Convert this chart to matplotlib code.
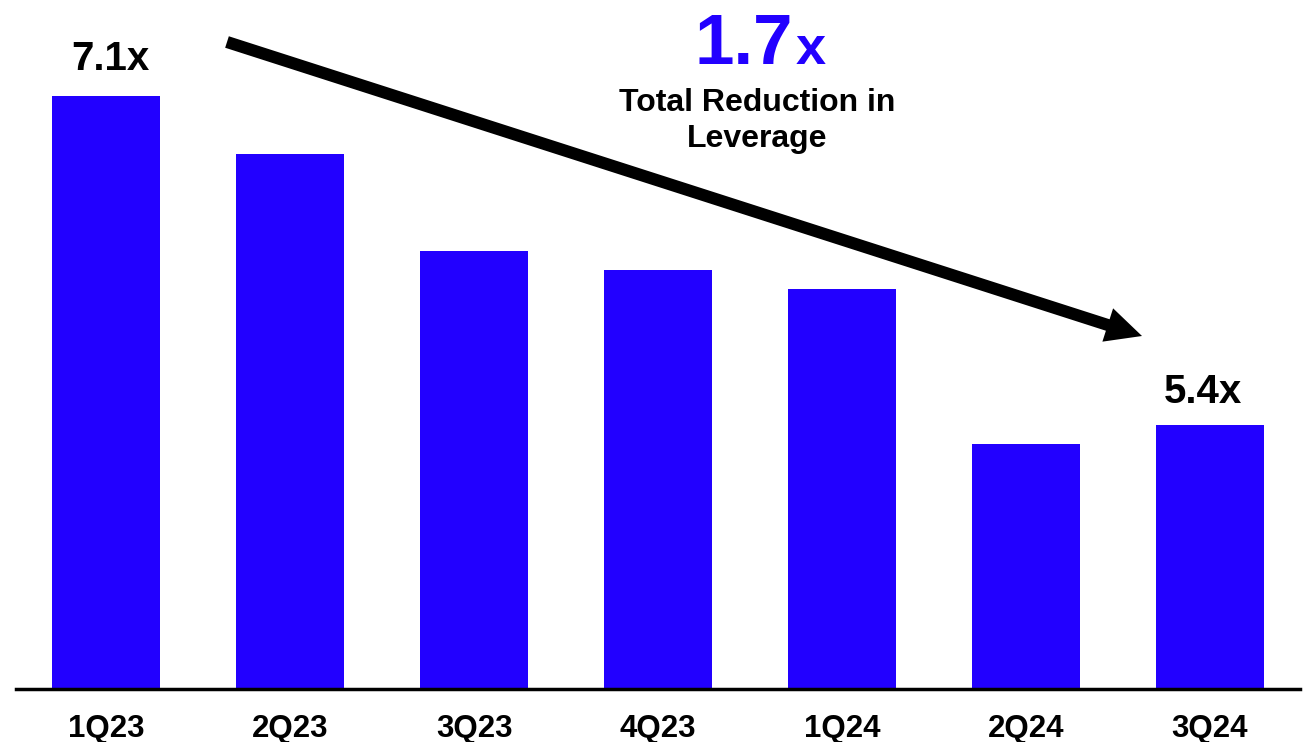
import matplotlib.pyplot as plt
from matplotlib.patches import FancyArrowPatch

plt.rcParams['font.family'] = ['Liberation Sans', 'DejaVu Sans']
plt.rcParams['font.weight'] = 'bold'

quarters = ['1Q23', '2Q23', '3Q23', '4Q23', '1Q24', '2Q24', '3Q24']
leverage = [7.1, 6.8, 6.3, 6.2, 6.1, 5.3, 5.4]
bar_labels = {0: '7.1x', 6: '5.4x'}

blue = '#2200FF'

fig = plt.figure(figsize=(13.09, 7.42), dpi=100)
W, H = 1309, 742
ax = fig.add_axes([16 / W, 53 / H, (1300 - 16) / W, 689 / H])

x = range(len(quarters))
ax.bar(x, leverage, width=0.59, color=blue, bottom=0)
ax.set_ylim(4.03, 7.6)
ax.set_xlim(-0.49, 6.49)

for s in ['top', 'right', 'left']:
    ax.spines[s].set_visible(False)
ax.spines['bottom'].set_linewidth(2.5)
ax.set_yticks([])
ax.set_xticks(list(x))
ax.set_xticklabels(quarters, fontsize=22.5, fontweight='bold')
ax.tick_params(axis='x', length=0, pad=18)

offsets = {0: (3, 13), 6: (-5, 10)}
for i, lab in bar_labels.items():
    ax.annotate(lab, (i, leverage[i]), xytext=offsets[i], textcoords='offset points',
                ha='center', va='bottom', fontsize=29, fontweight='bold')

# big trend arrow
arrow = FancyArrowPatch((227 / W, 1 - 42 / H), (1142 / W, 1 - 336 / H),
                        transform=fig.transFigure,
                        arrowstyle='simple,head_length=1.85,head_width=1.8,tail_width=0.62',
                        mutation_scale=14, linewidth=0, color='black', shrinkA=0, shrinkB=0)
fig.add_artist(arrow)

fig.text(793 / W, 1 - 46 / H, '1.7', color=blue, fontsize=51, fontweight='bold',
         ha='right', va='center')
fig.text(796 / W, 1 - 50 / H, 'x', color=blue, fontsize=39, fontweight='bold',
         ha='left', va='center')
fig.text(757 / W, 1 - 121 / H, 'Total Reduction in\nLeverage', fontsize=23,
         fontweight='bold', ha='center', va='center', linespacing=1.27)

fig.savefig('out.png', dpi=100)
